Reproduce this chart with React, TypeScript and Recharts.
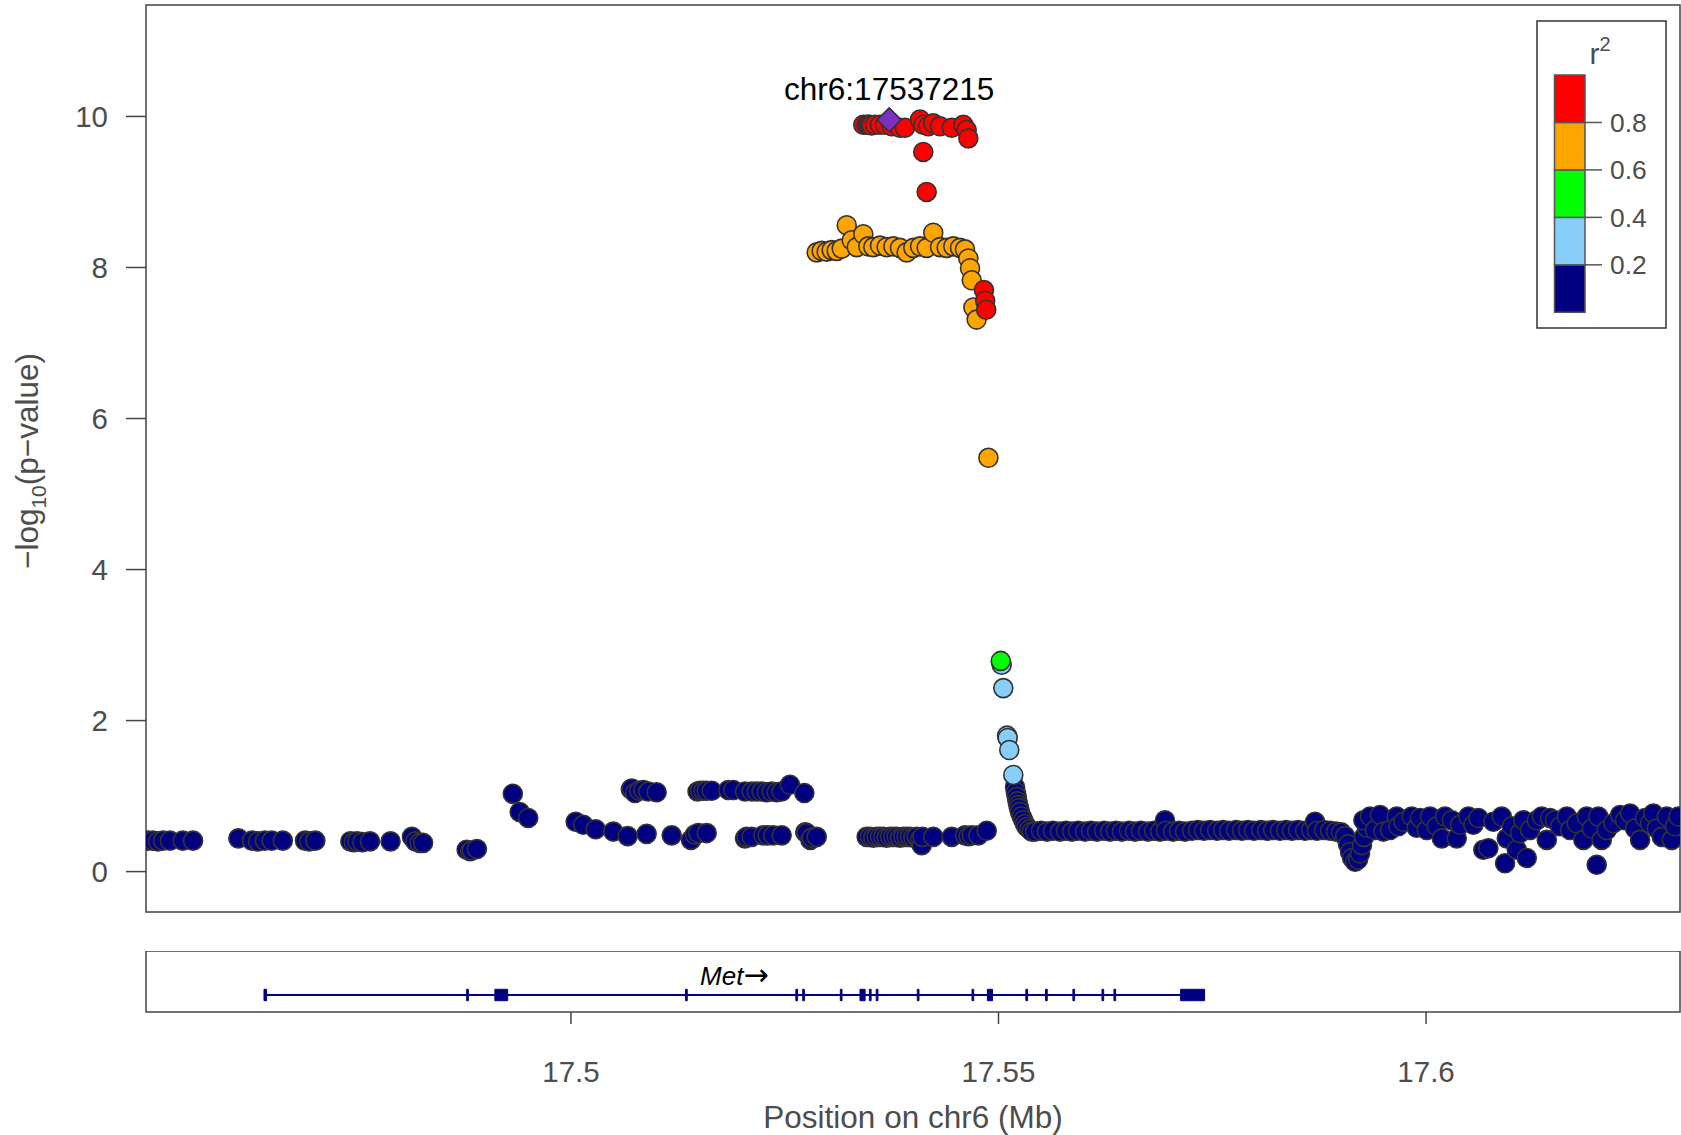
import React from "react";
import { ScatterChart, Scatter, XAxis, YAxis, ReferenceArea, ReferenceDot, ReferenceLine, Label } from "recharts";

const FONT = '"Liberation Sans", Arial, Helvetica, sans-serif';
const AXIS_TEXT = "#4d4d4d";
const FRAME = "#444";

const X_DOMAIN: [number, number] = [17.4503, 17.6297];
const Y_DOMAIN: [number, number] = [-0.535, 11.476];
const Y_TICKS = [0, 2, 4, 6, 8, 10];
const X_TICKS = [17.5, 17.55, 17.6];

// [position (Mb), -log10 p]
const navyPts: [number, number][] = [
  [17.4505, 0.41], [17.4511, 0.41], [17.4517, 0.4], [17.4523, 0.41], [17.4531, 0.41], [17.4546, 0.41], [17.4558, 0.41],
  [17.4611, 0.44], [17.4627, 0.41], [17.4634, 0.4], [17.4642, 0.41], [17.465, 0.41], [17.4663, 0.41],
  [17.4689, 0.41], [17.4694, 0.4], [17.4701, 0.41],
  [17.4742, 0.4], [17.4746, 0.39], [17.475, 0.4], [17.4756, 0.39], [17.4765, 0.4],
  [17.4789, 0.4],
  [17.4814, 0.46], [17.4818, 0.4], [17.4823, 0.38], [17.4827, 0.38],
  [17.4878, 0.29], [17.4882, 0.27], [17.4884, 0.28], [17.489, 0.3],
  [17.4932, 1.03], [17.494, 0.79], [17.495, 0.71],
  [17.50055, 0.66], [17.50144, 0.62], [17.50289, 0.56], [17.50495, 0.53], [17.50663, 0.47], [17.50885, 0.5],
  [17.51178, 0.48], [17.51404, 0.42], [17.5145, 0.49], [17.51489, 0.51], [17.51587, 0.51], [17.52035, 0.44],
  [17.52055, 0.46], [17.52113, 0.46], [17.52249, 0.48], [17.523, 0.48], [17.52366, 0.48], [17.52464, 0.48],
  [17.5274, 0.52], [17.52757, 0.51], [17.528, 0.42], [17.52815, 0.45], [17.52874, 0.46],
  [17.507, 1.09], [17.5071, 1.1], [17.50749, 1.04], [17.508, 1.07], [17.50846, 1.08], [17.50904, 1.06], [17.51002, 1.05],
  [17.5148, 1.06], [17.51509, 1.07], [17.5155, 1.07], [17.51587, 1.07], [17.51646, 1.07], [17.5184, 1.08], [17.51898, 1.08],
  [17.52035, 1.06], [17.52113, 1.06], [17.52172, 1.06], [17.5223, 1.06], [17.52289, 1.05], [17.52347, 1.06],
  [17.52406, 1.05], [17.52464, 1.06], [17.52561, 1.15], [17.52729, 1.04],
  [17.53458, 0.46], [17.53497, 0.46], [17.53536, 0.45], [17.53575, 0.46], [17.53614, 0.46], [17.53653, 0.46],
  [17.53692, 0.45], [17.53731, 0.46], [17.5377, 0.46], [17.53809, 0.46], [17.53848, 0.45], [17.53887, 0.46],
  [17.53926, 0.46], [17.53965, 0.46], [17.54004, 0.45], [17.54043, 0.46], [17.54082, 0.42], [17.54102, 0.35],
  [17.5411, 0.46], [17.54237, 0.46], [17.54453, 0.46], [17.54608, 0.48], [17.5465, 0.47], [17.54687, 0.48],
  [17.54764, 0.48], [17.54862, 0.54],
  [17.55193, 1.12], [17.55203, 1.05], [17.55213, 0.99], [17.55222, 0.93], [17.55232, 0.88], [17.55241, 0.84],
  [17.55251, 0.79], [17.5527, 0.73], [17.5529, 0.68], [17.5531, 0.63], [17.5533, 0.59], [17.5536, 0.56], [17.55388, 0.53],
  [17.55427, 0.53], [17.55497, 0.54], [17.55567, 0.53], [17.55637, 0.54], [17.55719, 0.53], [17.55789, 0.54],
  [17.5586, 0.53], [17.5593, 0.54], [17.56012, 0.53], [17.56082, 0.54], [17.56152, 0.53], [17.56234, 0.54],
  [17.56304, 0.53], [17.56374, 0.54], [17.56444, 0.53], [17.56526, 0.54], [17.56596, 0.53], [17.56667, 0.54],
  [17.56749, 0.53], [17.56819, 0.54], [17.56889, 0.53], [17.56947, 0.68], [17.56959, 0.54], [17.57041, 0.53],
  [17.57111, 0.54], [17.57181, 0.53], [17.57263, 0.54], [17.57333, 0.55], [17.57404, 0.54], [17.57474, 0.55],
  [17.57556, 0.54], [17.57626, 0.55], [17.57696, 0.54], [17.57778, 0.55], [17.57848, 0.54], [17.57918, 0.55],
  [17.57988, 0.54], [17.5807, 0.55], [17.5814, 0.54], [17.58211, 0.55], [17.58292, 0.54], [17.58363, 0.55],
  [17.58433, 0.54], [17.58503, 0.55], [17.58585, 0.54], [17.58655, 0.55], [17.58702, 0.66], [17.58725, 0.54],
  [17.58807, 0.55], [17.58877, 0.54], [17.58947, 0.53], [17.59006, 0.52],
  [17.59053, 0.47], [17.59088, 0.36], [17.59111, 0.26], [17.59135, 0.18], [17.5917, 0.13], [17.59205, 0.16],
  [17.59228, 0.24], [17.59251, 0.35], [17.59275, 0.46], [17.5931, 0.58],
  [17.59267, 0.68], [17.59345, 0.73], [17.59403, 0.55], [17.59462, 0.75], [17.59501, 0.53], [17.59579, 0.55],
  [17.59657, 0.73], [17.59676, 0.6], [17.59735, 0.66], [17.59833, 0.73], [17.59891, 0.58], [17.5993, 0.71],
  [17.60008, 0.55], [17.60047, 0.73], [17.60125, 0.6], [17.60184, 0.44], [17.60222, 0.73], [17.60301, 0.68],
  [17.60359, 0.44], [17.60398, 0.62], [17.60495, 0.73], [17.60553, 0.62], [17.60612, 0.71], [17.6067, 0.29],
  [17.60729, 0.31], [17.60787, 0.66], [17.60885, 0.73], [17.60924, 0.11], [17.60944, 0.44], [17.61002, 0.6],
  [17.61061, 0.29], [17.61099, 0.51], [17.61138, 0.68], [17.61178, 0.18], [17.61216, 0.55], [17.61295, 0.68],
  [17.61353, 0.73], [17.61412, 0.42], [17.6145, 0.71], [17.61509, 0.68], [17.61567, 0.6], [17.61646, 0.73],
  [17.61684, 0.55], [17.61762, 0.64], [17.6184, 0.42], [17.61879, 0.73], [17.61938, 0.57], [17.61996, 0.09],
  [17.62015, 0.73], [17.62055, 0.42], [17.62113, 0.55], [17.62191, 0.64], [17.62269, 0.75], [17.62327, 0.68],
  [17.62386, 0.77], [17.62444, 0.57], [17.62503, 0.42], [17.62561, 0.71], [17.6262, 0.64], [17.62658, 0.77],
  [17.62698, 0.57], [17.62757, 0.46], [17.62815, 0.73], [17.62874, 0.42], [17.62912, 0.6], [17.62951, 0.73],
];

const lightBluePts: [number, number][] = [
  [17.55037, 2.74], [17.55056, 2.43], [17.551, 1.8], [17.55107, 1.77], [17.55126, 1.61], [17.55173, 1.28],
];

const greenPts: [number, number][] = [[17.55026, 2.79]];

const orangePts: [number, number][] = [
  [17.52874, 8.2], [17.52932, 8.22], [17.52991, 8.21], [17.53049, 8.23], [17.53108, 8.22], [17.53166, 8.25],
  [17.53225, 8.56], [17.53283, 8.36], [17.53342, 8.27], [17.53419, 8.44], [17.53477, 8.28], [17.53536, 8.27],
  [17.53614, 8.29], [17.53692, 8.27], [17.5377, 8.28], [17.53848, 8.26], [17.53926, 8.2], [17.54004, 8.26],
  [17.54082, 8.28], [17.5416, 8.26], [17.54237, 8.46], [17.54316, 8.27], [17.54394, 8.26], [17.54471, 8.28],
  [17.5455, 8.26], [17.54608, 8.24], [17.54647, 8.12], [17.54667, 7.99], [17.54687, 7.83], [17.54706, 7.47],
  [17.54744, 7.31], [17.54882, 5.48],
];

const redPts: [number, number][] = [
  [17.53419, 9.89], [17.53458, 9.89], [17.53477, 9.89], [17.53497, 9.89], [17.53516, 9.88], [17.53556, 9.89],
  [17.53614, 9.89], [17.53673, 9.89], [17.53751, 9.87], [17.53848, 9.85], [17.53906, 9.85], [17.54082, 9.96],
  [17.5412, 9.89], [17.54179, 9.87], [17.54237, 9.91], [17.54316, 9.87], [17.54453, 9.85], [17.54588, 9.89],
  [17.54628, 9.82], [17.54647, 9.71], [17.5412, 9.53], [17.5416, 9.0], [17.5483, 7.7], [17.54844, 7.56], [17.54856, 7.44],
];

const leadSnp: [number, number] = [17.537215, 9.955];
const leadName = "chr6:17537215";

// gene track
const geneName = "Met";
const geneSpan: [number, number] = [17.4641, 17.5741];
const exons: [number, number][] = [
  [17.4641, 17.4644], [17.4878, 17.488], [17.4911, 17.4926], [17.5134, 17.5136], [17.5263, 17.5265],
  [17.5271, 17.5273], [17.5315, 17.5317], [17.5338, 17.5344], [17.5349, 17.5351], [17.5357, 17.5359],
  [17.5405, 17.5407], [17.5469, 17.5471], [17.5487, 17.5493], [17.5532, 17.5534], [17.5555, 17.5557],
  [17.5587, 17.5589], [17.5621, 17.5623], [17.5635, 17.5637], [17.5713, 17.5741],
];
const GENE_Y = 0.279;
const EXON_Y: [number, number] = [0.185, 0.372];

// r^2 key, bottom to top
const r2Colors = ["#000080", "#87CEFA", "#00FF00", "#FFA500", "#FF0000"];
const r2Breaks = ["0.2", "0.4", "0.6", "0.8"];

const toPts = (arr: [number, number][]) => arr.map(([pos, logp]) => ({ pos, logp }));

const dot = (fill: string) => (props: any) => (
  <circle cx={props.cx} cy={props.cy} r={9.5} fill={fill} stroke="#333" strokeWidth={1.6} />
);

const diamond = (props: any) => {
  const { cx, cy } = props;
  const s = 12;
  return (
    <polygon
      points={`${cx},${cy - s} ${cx + s},${cy} ${cx},${cy + s} ${cx - s},${cy}`}
      fill="#7B32C4"
      stroke="#333"
      strokeWidth={1.5}
    />
  );
};

const nothing = () => <g />;

const YTitle = () => (
  <text transform="translate(38, 461) rotate(-90)" textAnchor="middle" fontSize={31.5} fill={AXIS_TEXT} fontFamily={FONT}>
    <tspan>{"\u2212log"}</tspan>
    <tspan fontSize={21} dy={8}>10</tspan>
    <tspan dy={-8}>{"(p\u2212value)"}</tspan>
  </text>
);

const XTitle = () => (
  <text x={913} y={177} textAnchor="middle" fontSize={31.5} fill={AXIS_TEXT} fontFamily={FONT}>
    Position on chr6 (Mb)
  </text>
);

const LeadLabel = (props: any) => {
  const { viewBox } = props;
  return (
    <text x={viewBox.x} y={viewBox.y - 20} textAnchor="middle" fontSize={31.5} fill="#000" fontFamily={FONT}>
      {leadName}
    </text>
  );
};

const GeneLabel = (props: any) => {
  const { viewBox } = props;
  return (
    <text x={viewBox.x} y={viewBox.y + 9} textAnchor="middle" fontSize={26} fontStyle="italic" fill="#000" fontFamily={FONT}>
      {geneName}
      <tspan fontFamily='"DejaVu Sans", sans-serif' fontStyle="normal" fontSize={30}>{"\u2192"}</tspan>
    </text>
  );
};

const R2Key = () => {
  const barTop = 75;
  const segH = 47.46;
  return (
    <svg width={1681} height={1135} style={{ position: "absolute", left: 0, top: 0, pointerEvents: "none" }}>
      <rect x={1537} y={21} width={129} height={307} fill="#fff" stroke="#333" strokeWidth={1.5} />
      <text x={1600} y={64} textAnchor="middle" fontSize={30} fill={AXIS_TEXT} fontFamily={FONT}>
        r<tspan fontSize={20} dy={-13}>2</tspan>
      </text>
      {r2Colors.map((c, i) => (
        <rect
          key={c}
          x={1554.5}
          y={barTop + (4 - i) * segH}
          width={30.5}
          height={segH}
          fill={c}
          stroke="#555"
          strokeWidth={1.5}
        />
      ))}
      {r2Breaks.map((b, i) => {
        const y = barTop + (4 - i - 1) * segH + segH;
        return (
          <g key={b}>
            <line x1={1585} x2={1602} y1={y} y2={y} stroke="#555" strokeWidth={1.5} />
            <text x={1610} y={y + 9.5} fontSize={26.4} fill={AXIS_TEXT} fontFamily={FONT}>
              {b}
            </text>
          </g>
        );
      })}
    </svg>
  );
};

const App: React.FC = () => {
  return (
    <div style={{ position: "absolute", left: 0, top: 0, width: 1681, height: 1135, background: "#fff", fontFamily: FONT }}>
      <div style={{ position: "absolute", left: 0, top: 0 }}>
        <ScatterChart width={1681} height={914} margin={{ top: 5, right: 1, bottom: 2, left: 0 }}>
          <XAxis dataKey="pos" type="number" domain={X_DOMAIN} allowDataOverflow hide />
          <YAxis
            dataKey="logp"
            type="number"
            domain={Y_DOMAIN}
            allowDataOverflow
            ticks={Y_TICKS}
            width={146}
            axisLine={false}
            tickSize={20}
            tickMargin={18}
            tickLine={{ stroke: FRAME, strokeWidth: 1.5 }}
            tick={{ fill: AXIS_TEXT, fontSize: 29.5, fontFamily: FONT }}
          >
            <Label content={YTitle} />
          </YAxis>
          <Scatter data={toPts(navyPts)} shape={dot("#000080")} isAnimationActive={false} />
          <Scatter data={toPts(lightBluePts)} shape={dot("#87CEFA")} isAnimationActive={false} />
          <Scatter data={toPts(greenPts)} shape={dot("#00FF00")} isAnimationActive={false} />
          <Scatter data={toPts(orangePts)} shape={dot("#FFA500")} isAnimationActive={false} />
          <Scatter data={toPts(redPts)} shape={dot("#FF0000")} isAnimationActive={false} />
          <Scatter data={toPts([leadSnp])} shape={diamond} isAnimationActive={false} />
          <ReferenceArea
            x1={X_DOMAIN[0]}
            x2={X_DOMAIN[1]}
            y1={Y_DOMAIN[0]}
            y2={Y_DOMAIN[1]}
            fill="none"
            fillOpacity={0}
            stroke={FRAME}
            strokeWidth={1.5}
          />
          <ReferenceDot x={leadSnp[0]} y={leadSnp[1]} r={0} fill="none" stroke="none" label={{ content: LeadLabel }} />
        </ScatterChart>
      </div>
      <div style={{ position: "absolute", left: 0, top: 951 }}>
        <ScatterChart width={1681} height={184} margin={{ top: 0, right: 1, bottom: 0, left: 146 }}>
          <XAxis
            dataKey="pos"
            type="number"
            domain={X_DOMAIN}
            allowDataOverflow
            ticks={X_TICKS}
            height={123}
            axisLine={false}
            tickSize={12}
            tickMargin={37}
            tickLine={{ stroke: FRAME, strokeWidth: 1.5 }}
            tick={{ fill: AXIS_TEXT, fontSize: 29.5, fontFamily: FONT }}
          >
            <Label content={XTitle} />
          </XAxis>
          <YAxis dataKey="y" type="number" domain={[0, 1]} allowDataOverflow hide />
          <Scatter
            data={[{ pos: geneSpan[0], y: GENE_Y }, { pos: geneSpan[1], y: GENE_Y }]}
            shape={nothing}
            isAnimationActive={false}
          />
          <ReferenceArea x1={X_DOMAIN[0]} x2={X_DOMAIN[1]} y1={0} y2={1} fill="none" fillOpacity={0} stroke={FRAME} strokeWidth={1.5} />
          <ReferenceLine
            segment={[{ x: geneSpan[0], y: GENE_Y }, { x: geneSpan[1], y: GENE_Y }]}
            stroke="#000080"
            strokeWidth={2}
          />
          {exons.map(([s, e], i) => (
            <ReferenceArea
              key={`exon-${i}`}
              x1={s}
              x2={e}
              y1={EXON_Y[0]}
              y2={EXON_Y[1]}
              fill="#000080"
              fillOpacity={1}
              stroke="#000080"
              strokeWidth={1}
            />
          ))}
          <ReferenceDot x={(geneSpan[0] + geneSpan[1]) / 2} y={0.59} r={0} fill="none" stroke="none" label={{ content: GeneLabel }} />
        </ScatterChart>
      </div>
      <R2Key />
    </div>
  );
};

export default App;
